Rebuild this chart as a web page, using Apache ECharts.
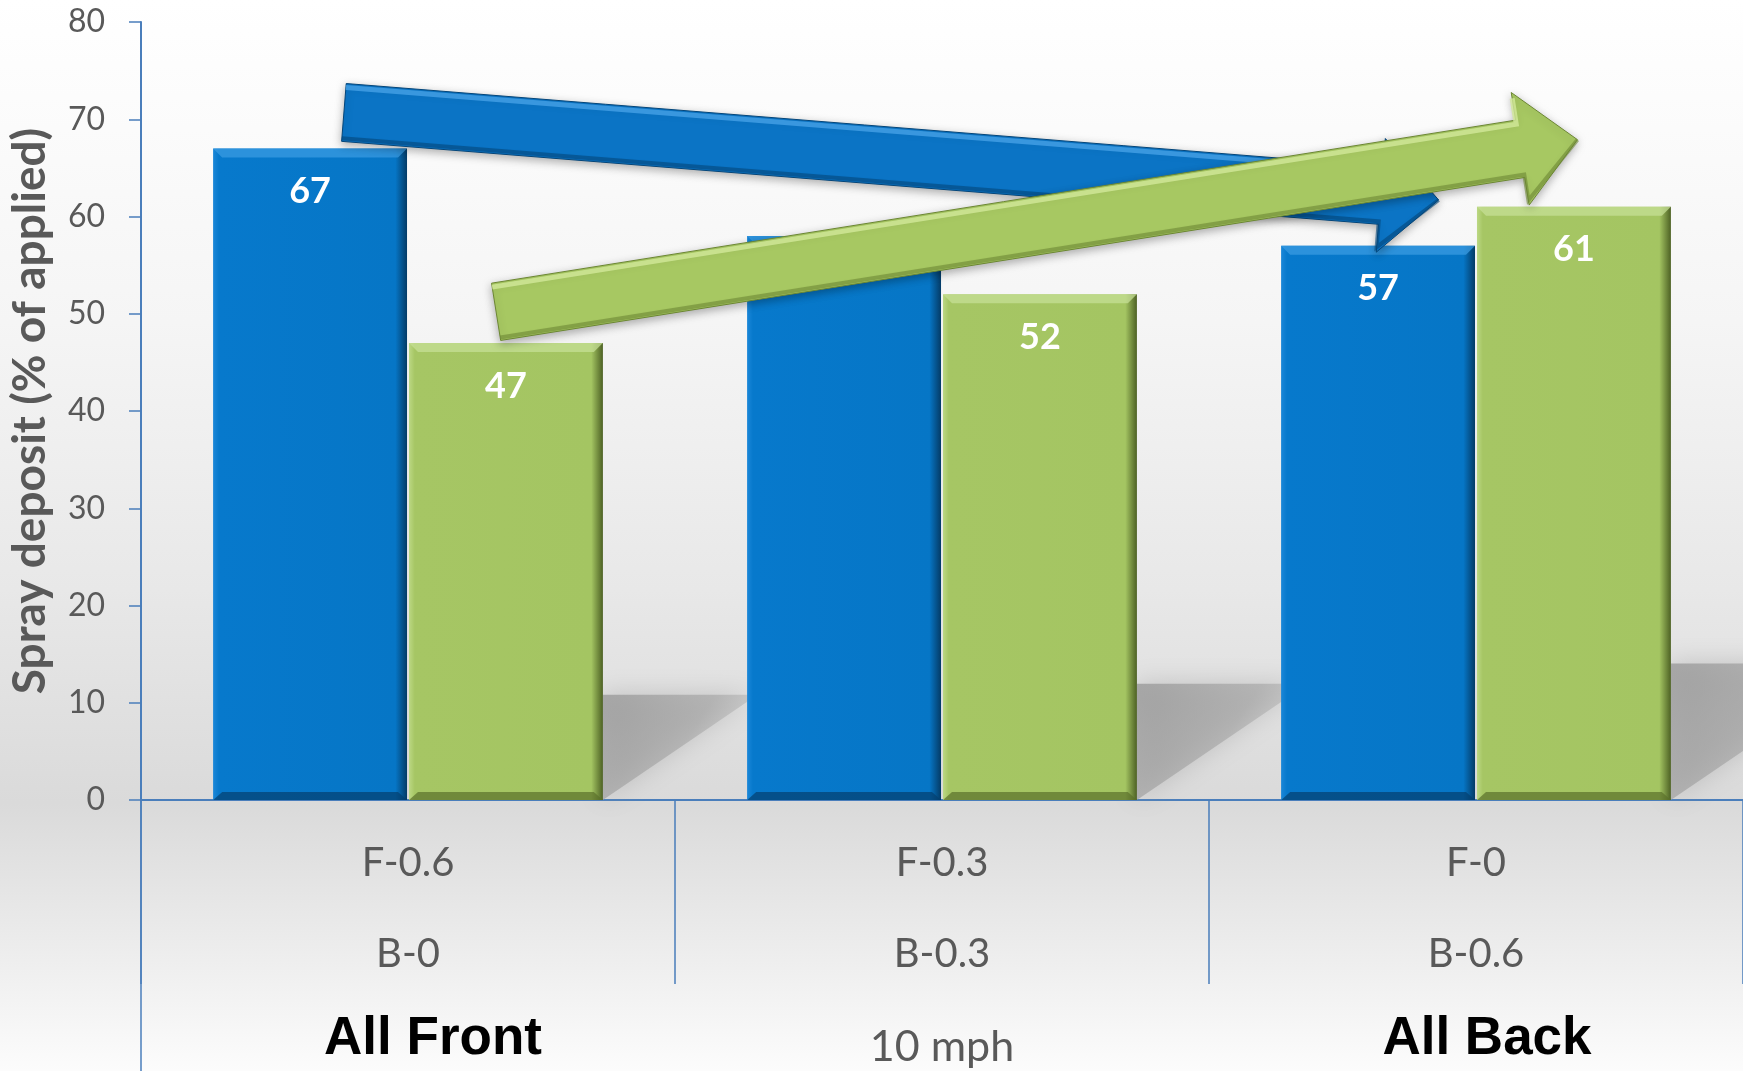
<!DOCTYPE html>
<html>
<head>
<meta charset="utf-8">
<title>Spray deposit</title>
<script src="https://cdn.jsdelivr.net/npm/echarts@6/dist/echarts.min.js"></script>
<style>
  html, body { margin: 0; padding: 0; }
  #chart { width: 1743px; height: 1071px; }
</style>
</head>
<body>
<div id="chart"></div>
<script>
// data
const categories = ['F-0.6\nB-0', 'F-0.3\nB-0.3', 'F-0\nB-0.6']
const groupLabels = ['All Front', '10 mph', 'All Back']
const blueValues = [67, 58, 57]
const greenValues = [47, 52, 61]
// arrows: [category position, value] for tail and tip
const blueArrow = [[-0.12, 70.7], [1.93, 61.7]]
const greenArrow = [[0.165, 50.2], [2.19, 67.9]]

const AXIS_BLUE = '#4a7ebb'
const GRAY_TEXT = '#595959'
const GRID_LEFT = 141

const chart = echarts.init(document.getElementById('chart'))

// point in pixels from fractional category position
function toPx(api, pos, val) {
  const a = api.coord([0, val])
  const b = api.coord([1, val])
  return [a[0] + (b[0] - a[0]) * pos, a[1]]
}

function arrowRender(arrow, colors) {
  return function(params, api) {
    const t = toPx(api, arrow[0][0], arrow[0][1])
    const p = toPx(api, arrow[1][0], arrow[1][1])
    const len = Math.hypot(p[0] - t[0], p[1] - t[1])
    const d = [(p[0] - t[0]) / len, (p[1] - t[1]) / len]
    const n = [-d[1], d[0]]
    const w = 29
    const hw = 57
    const hl = 58
    const b = [p[0] - d[0] * hl, p[1] - d[1] * hl]
    const pt = (o, k) => [o[0] + n[0] * k, o[1] + n[1] * k]
    const shape = [pt(t, w), pt(b, w), pt(b, hw), p, pt(b, -hw), pt(b, -w), pt(t, -w)]
    return {
      type: 'group',
      children: [
        {
          type: 'polygon',
          shape: { points: shape },
          style: {
            fill: colors.main,
            stroke: colors.dark,
            lineWidth: 1,
            shadowBlur: 8,
            shadowOffsetY: 3,
            shadowColor: 'rgba(0,0,0,0.3)'
          }
        },
        {
          type: 'polyline',
          shape: { points: [pt(t, -w + 4), pt(b, -w + 4), pt(b, -hw + 6)] },
          style: { stroke: colors.light, lineWidth: 5, fill: null, opacity: 0.8 }
        },
        {
          type: 'polyline',
          shape: { points: [pt(t, w - 3), pt(b, w - 3), pt(b, hw - 5), p] },
          style: { stroke: colors.dark, lineWidth: 4, fill: null, opacity: 0.6 }
        }
      ]
    }
  }
}

// bar with a light top bevel and dark bottom edge
function barBevel(colors) {
  return function(params, api) {
    const i = api.value(0)
    const band = api.size([1, 0])[0]
    const base = api.coord([i, 0])
    const top = api.coord([i, api.value(1)])
    const bw = band * 0.363
    const x = base[0] + (colors.side < 0 ? -bw - 1 : 1)
    return {
      type: 'group',
      children: [
        {
          type: 'polygon',
          shape: { points: [[x, top[1]], [x + bw, top[1]], [x + bw - 9, top[1] + 9], [x + 9, top[1] + 9]] },
          style: { fill: colors.light, opacity: 0.75 }
        },
        {
          type: 'polygon',
          shape: { points: [[x + 9, base[1] - 8], [x + bw - 9, base[1] - 8], [x + bw, base[1]], [x, base[1]]] },
          style: { fill: colors.dark, opacity: 0.7 }
        }
      ]
    }
  }
}

const option = {
  animation: false,
  backgroundColor: {
    type: 'linear', x: 0, y: 0, x2: 0, y2: 1,
    colorStops: [
      { offset: 0, color: '#ffffff' },
      { offset: 0.3, color: '#f5f5f5' },
      { offset: 0.55, color: '#e8e8e8' },
      { offset: 0.75, color: '#dadada' },
      { offset: 1, color: '#fcfcfc' }
    ]
  },
  grid: { left: GRID_LEFT, right: 0, top: 22, bottom: 271, containLabel: false, outerBoundsMode: 'none' },
  graphic: [
    {
      type: 'line',
      shape: { x1: GRID_LEFT, y1: 800, x2: GRID_LEFT, y2: 1071 },
      style: { stroke: AXIS_BLUE, lineWidth: 1.5 }
    }
  ],
  xAxis: [
    {
      type: 'category',
      data: categories,
      position: 'bottom',
      axisLine: { lineStyle: { color: AXIS_BLUE, width: 2 } },
      axisTick: { show: true, length: 184, lineStyle: { color: AXIS_BLUE, width: 1.5 } },
      axisLabel: {
        interval: 0,
        margin: 18,
        fontSize: 40,
        lineHeight: 91,
        fontFamily: 'Lato',
        color: GRAY_TEXT
      }
    },
    {
      type: 'category',
      position: 'bottom',
      data: [
        { value: groupLabels[0], textStyle: { fontFamily: 'Liberation Sans', fontWeight: 'bold', fontSize: 53, lineHeight: 53, color: '#000', padding: [0, 0, 0, 50] } },
        { value: groupLabels[1], textStyle: { fontFamily: 'Lato', fontSize: 43, lineHeight: 68, color: GRAY_TEXT } },
        { value: groupLabels[2], textStyle: { fontFamily: 'Liberation Sans', fontWeight: 'bold', fontSize: 53, lineHeight: 53, color: '#000', padding: [0, 0, 0, 22] } }
      ],
      axisLine: { show: false },
      axisTick: { show: false },
      axisLabel: { interval: 0, margin: 213 }
    }
  ],
  yAxis: {
    type: 'value',
    min: 0,
    max: 80,
    interval: 10,
    name: 'Spray deposit (% of applied)',
    nameLocation: 'middle',
    nameGap: 88,
    nameTextStyle: { fontFamily: 'Lato', fontWeight: 'bold', fontSize: 46, color: GRAY_TEXT },
    axisLine: { show: true, lineStyle: { color: AXIS_BLUE, width: 2 } },
    axisTick: { show: true, length: 12, lineStyle: { color: AXIS_BLUE, width: 1.5 } },
    axisLabel: { fontFamily: 'Lato', fontSize: 32, color: GRAY_TEXT, margin: 36 },
    splitLine: { show: false }
  },
  series: [
    {
      // cast shadow behind each group
      type: 'custom',
      z: 1,
      silent: true,
      data: greenValues.map((v, i) => [i, v]),
      renderItem: function(params, api) {
        const i = api.value(0)
        const base = api.coord([i, 0])
        const top = api.coord([i, api.value(1)])
        const band = api.size([1, 0])[0]
        const xr = base[0] + band * 0.365
        const h = (base[1] - top[1]) * 0.23
        const yt = base[1] - h
        const wd = h / 0.68
        return {
          type: 'polygon',
          shape: { points: [[xr, yt], [xr + wd, yt], [xr, base[1]]] },
          style: {
            fill: {
              type: 'linear', x: 0, y: 0, x2: 1, y2: 1,
              colorStops: [
                { offset: 0, color: 'rgba(150,150,150,0.75)' },
                { offset: 0.5, color: 'rgba(165,165,165,0.65)' },
                { offset: 1, color: 'rgba(200,200,200,0.25)' }
              ]
            },
            shadowBlur: 26,
            shadowColor: 'rgba(160,160,160,0.7)'
          }
        }
      }
    },
    {
      name: 'Blue',
      type: 'bar',
      z: 2,
      barCategoryGap: '27%',
      barGap: '1%',
      data: blueValues.map((v, i) => i === 1 ? { value: v, label: { show: false } } : v),
      itemStyle: {
        color: {
          type: 'linear', x: 0, y: 0, x2: 1, y2: 0,
          colorStops: [
            { offset: 0, color: '#1b87d8' },
            { offset: 0.03, color: '#0779cc' },
            { offset: 0.94, color: '#0676c6' },
            { offset: 1, color: '#043b66' }
          ]
        }
      },
      label: {
        show: true,
        position: 'insideTop',
        distance: 25,
        color: '#fff',
        fontFamily: 'Lato',
        fontWeight: 'bold',
        fontSize: 36
      }
    },
    {
      name: 'Green',
      type: 'bar',
      z: 2,
      data: greenValues,
      itemStyle: {
        color: {
          type: 'linear', x: 0, y: 0, x2: 1, y2: 0,
          colorStops: [
            { offset: 0, color: '#bcd884' },
            { offset: 0.03, color: '#a6c664' },
            { offset: 0.94, color: '#a4c562' },
            { offset: 1, color: '#4d6124' }
          ]
        }
      },
      label: {
        show: true,
        position: 'insideTop',
        distance: 25,
        color: '#fff',
        fontFamily: 'Lato',
        fontWeight: 'bold',
        fontSize: 36
      }
    },
    {
      type: 'custom',
      z: 3,
      silent: true,
      data: blueValues.map((v, i) => [i, v]),
      renderItem: barBevel({ side: -1, light: '#3a9be2', dark: '#043f6e' })
    },
    {
      type: 'custom',
      z: 3,
      silent: true,
      data: greenValues.map((v, i) => [i, v]),
      renderItem: barBevel({ side: 1, light: '#c6df95', dark: '#5a6f2a' })
    },
    {
      type: 'custom',
      z: 10,
      silent: true,
      data: [[0, 0]],
      renderItem: arrowRender(blueArrow, { main: '#0b74c5', light: '#45a1e6', dark: '#04467a' })
    },
    {
      type: 'custom',
      z: 11,
      silent: true,
      data: [[0, 0]],
      renderItem: arrowRender(greenArrow, { main: '#a7c862', light: '#d2e99a', dark: '#6c8733' })
    }
  ]
}

chart.setOption(option)
window.addEventListener('resize', function() {
  chart.resize()
})
</script>
</body>
</html>
